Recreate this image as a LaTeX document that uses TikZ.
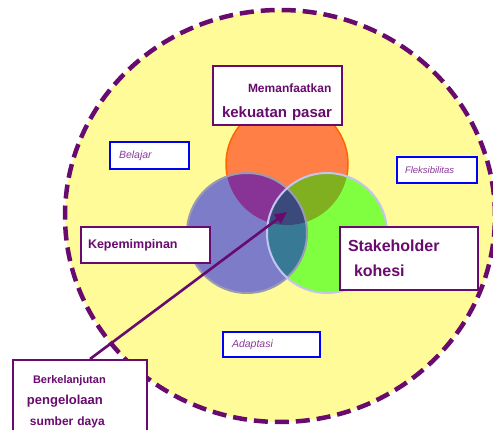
\documentclass[tikz,border=0pt]{standalone}
\usepackage{fontspec}
\setmainfont{Liberation Sans}
\usepackage{tikz}
\usetikzlibrary{arrows.meta, positioning}

\definecolor{dpurple}{RGB}{104,10,110}
\definecolor{itpurple}{RGB}{138,58,154}
\definecolor{paleyellow}{RGB}{255,251,153}
\definecolor{orangefill}{RGB}{255,127,70}
\definecolor{orangeedge}{RGB}{255,102,0}
\definecolor{bluefill}{RGB}{124,124,200}
\definecolor{blueedge}{RGB}{154,154,180}
\definecolor{greenfill}{RGB}{128,255,64}
\definecolor{greenedge}{RGB}{196,196,240}
\definecolor{purpleover}{RGB}{136,52,150}
\definecolor{oliveover}{RGB}{128,176,32}
\definecolor{tealover}{RGB}{56,122,150}
\definecolor{coreover}{RGB}{58,74,122}

\begin{document}
\begin{tikzpicture}[
	x=1pt, y=-1pt,
	every node/.style={inner sep=0pt},
	mainbox/.style={draw=dpurple, line width=2pt, fill=white, text=dpurple, align=left},
	sidebox/.style={draw=blue, line width=2.2pt, fill=white, text=itpurple, align=left,
		font=\itshape\fontsize{10.5}{12}\selectfont},
	arrowline/.style={draw=dpurple, line width=2.6pt, -{Triangle[length=12pt, width=11pt]}},
	]
	
	\clip (0,0) rectangle (493,430);
	
	% Yellow dashed background circle
	\path[fill=paleyellow, draw=dpurple, line width=4.5pt, dash pattern=on 14pt off 7pt]
		(280,216) ellipse [x radius=215pt, y radius=206pt];
	
	% Three circles
	\coordinate (oc) at (287,164);
	\coordinate (bc) at (247,233);
	\coordinate (gc) at (327,233);
	\coordinate (core) at (287,212);
	
	\draw[fill=orangefill, draw=orangeedge, line width=1.5pt] (oc) circle (61pt);
	\fill[bluefill] (bc) circle (60pt);
	\fill[greenfill] (gc) circle (60pt);
	\begin{scope}
		\clip (oc) circle (61pt);
		\fill[purpleover] (bc) circle (60pt);
		\fill[oliveover] (gc) circle (60pt);
	\end{scope}
	\begin{scope}
		\clip (bc) circle (60pt);
		\fill[tealover] (gc) circle (60pt);
		\clip (oc) circle (61pt);
		\fill[coreover] (gc) circle (60pt);
	\end{scope}
	\draw[blueedge, line width=2pt] (bc) circle (60pt);
	\draw[greenedge, line width=2pt] (gc) circle (60pt);
	
	% Labels in purple boxes
	\node[mainbox, minimum width=129pt, minimum height=59pt, text width=111pt,
		font=\bfseries\fontsize{15}{25}\selectfont] (pasar) at (277.5,95.5)
		{\rule{0pt}{22pt}\hspace*{26pt}\mbox{\fontsize{12}{14}\selectfont Memanfaatkan}\\kekuatan pasar};
	\node[mainbox, minimum width=129pt, minimum height=36pt, text width=115pt,
		font=\bfseries\fontsize{12.5}{15}\selectfont] (pimpin) at (145.5,245)
		{Kepemimpinan};
	\node[mainbox, minimum width=138pt, minimum height=63pt, text width=122pt,
		font=\bfseries\fontsize{16}{25}\selectfont] (stake) at (409,258.5)
		{Stakeholder\\\hspace*{6pt}kohesi};
	\node[mainbox, minimum width=134pt, minimum height=84pt, text width=106pt,
		font=\bfseries\fontsize{12}{21}\selectfont] (berk) at (80,402)
		{\hspace*{6pt}{\fontsize{11}{13}\selectfont Berkelanjutan}\\
		 {\fontsize{13}{15}\selectfont pengelolaan}\\
		 \hspace*{3pt}sumber daya};
	
	% Labels in blue boxes
	\node[sidebox, minimum width=79pt, minimum height=27pt, text width=61pt] (belajar) at (149.5,155.5) {Belajar};
	\node[sidebox, minimum width=80pt, minimum height=26pt, text width=64pt,
		font=\itshape\fontsize{9.5}{11}\selectfont] (fleks) at (437,170) {Fleksibilitas};
	\node[sidebox, minimum width=97pt, minimum height=25pt, text width=79pt] (adapt) at (271.5,344.5) {Adaptasi};
	
	% Arrow into the common core
	\draw[arrowline] ([xshift=78pt]berk.north west) -- (core);
	
\end{tikzpicture}
\end{document}
